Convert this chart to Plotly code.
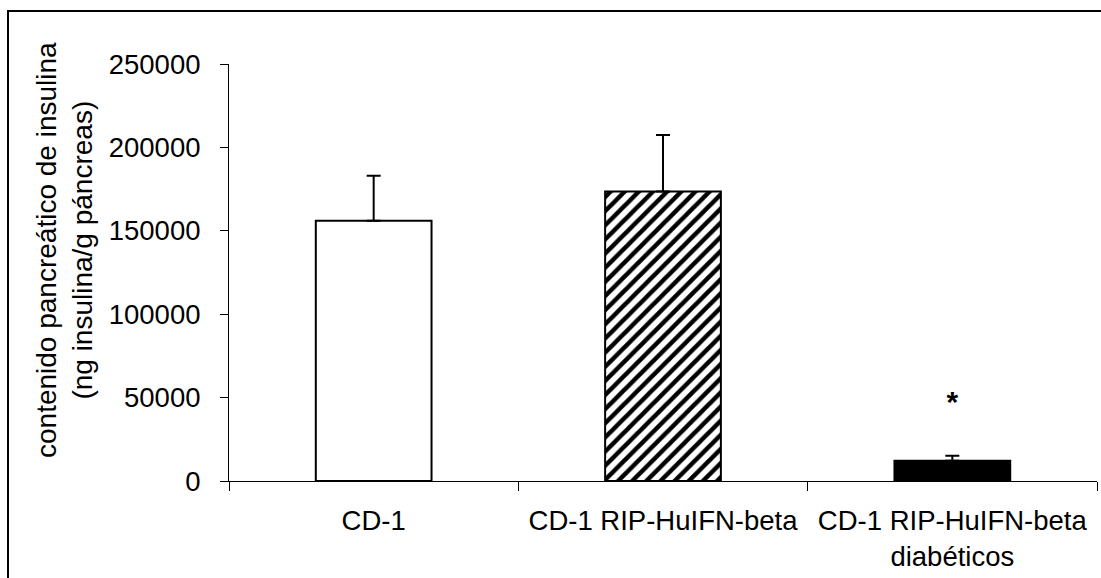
import plotly.graph_objects as go

# ---- data ----
categories = ["CD-1", "CD-1 RIP-HuIFN-beta", "CD-1 RIP-HuIFN-beta diabéticos"]
tick_labels = ["CD-1", "CD-1 RIP-HuIFN-beta", "CD-1 RIP-HuIFN-beta<br>diabéticos"]
values = [156000, 173500, 12200]
errors_up = [27000, 34000, 3000]
# bar 2: black hatch lines on a transparent (white) background
fill_colors = ["white", "black", "black"]
pattern_shapes = ["", "/", ""]
y_ticks = [0, 50000, 100000, 150000, 200000, 250000]
star_value = 46000
y_title = "contenido pancreático de insulina<br>(ng insulina/g páncreas)"

FONT = "Arial, Liberation Sans, sans-serif"
FS = 27.5

W, H = 1101, 578
L, R, T, B = 229, 4, 64, 97
plot_h = H - T - B
plot_w = W - L - R


def py(px):  # pixel y -> paper y
    return (H - B - px) / plot_h


def pxx(px):  # pixel x -> paper x
    return (px - L) / plot_w


fig = go.Figure()
fig.add_trace(go.Bar(
    x=categories, y=values, width=0.4,
    marker=dict(color=fill_colors,
                line=dict(color="black", width=2),
                pattern=dict(shape=pattern_shapes, fillmode="replace",
                             size=10, solidity=0.45)),
    error_y=dict(type="data", array=errors_up, arrayminus=[0, 0, 0], symmetric=False,
                 color="black", thickness=2, width=7),
    showlegend=False,
))
fig.add_trace(go.Scatter(
    x=[categories[2]], y=[star_value], mode="text", text=["<b>*</b>"],
    textfont=dict(family=FONT, size=30, color="black"), textposition="middle center",
    showlegend=False,
))

fig.update_layout(
    width=W, height=H,
    margin=dict(l=L, r=R, t=T, b=B, autoexpand=False),
    paper_bgcolor="white", plot_bgcolor="white",
    font=dict(family=FONT, size=FS, color="black"),
    bargap=0.6,
    xaxis=dict(
        type="category", range=[-0.5, 2.5], tickmode="array",
        tickvals=categories, ticktext=tick_labels,
        tickson="boundaries", ticks="outside", ticklen=9, tickwidth=1, tickcolor="black",
        showline=True, linecolor="black", linewidth=1, showgrid=False, zeroline=False,
        tickfont=dict(family=FONT, size=FS, color="black"), ticklabelstandoff=15,
    ),
    yaxis=dict(
        range=[0, 250000], tickmode="array", tickvals=y_ticks,
        ticktext=[str(v) for v in y_ticks],
        ticks="outside", ticklen=8, tickwidth=1, tickcolor="black",
        showline=True, linecolor="black", linewidth=1, showgrid=False, zeroline=False,
        tickfont=dict(family=FONT, size=FS, color="black"), ticklabelstandoff=14,
    ),
    shapes=[dict(type="rect", xref="paper", yref="paper",
                 x0=pxx(8), x1=pxx(1120), y0=py(11), y1=py(600),
                 line=dict(color="black", width=2), fillcolor="rgba(0,0,0,0)", layer="above")],
    annotations=[
        dict(text=y_title, textangle=-90, xref="paper", yref="paper",
             x=pxx(64), y=py(250), xanchor="center", yanchor="middle", showarrow=False,
             font=dict(family=FONT, size=28, color="black")),
    ],
)

fig.write_html("out.html")
